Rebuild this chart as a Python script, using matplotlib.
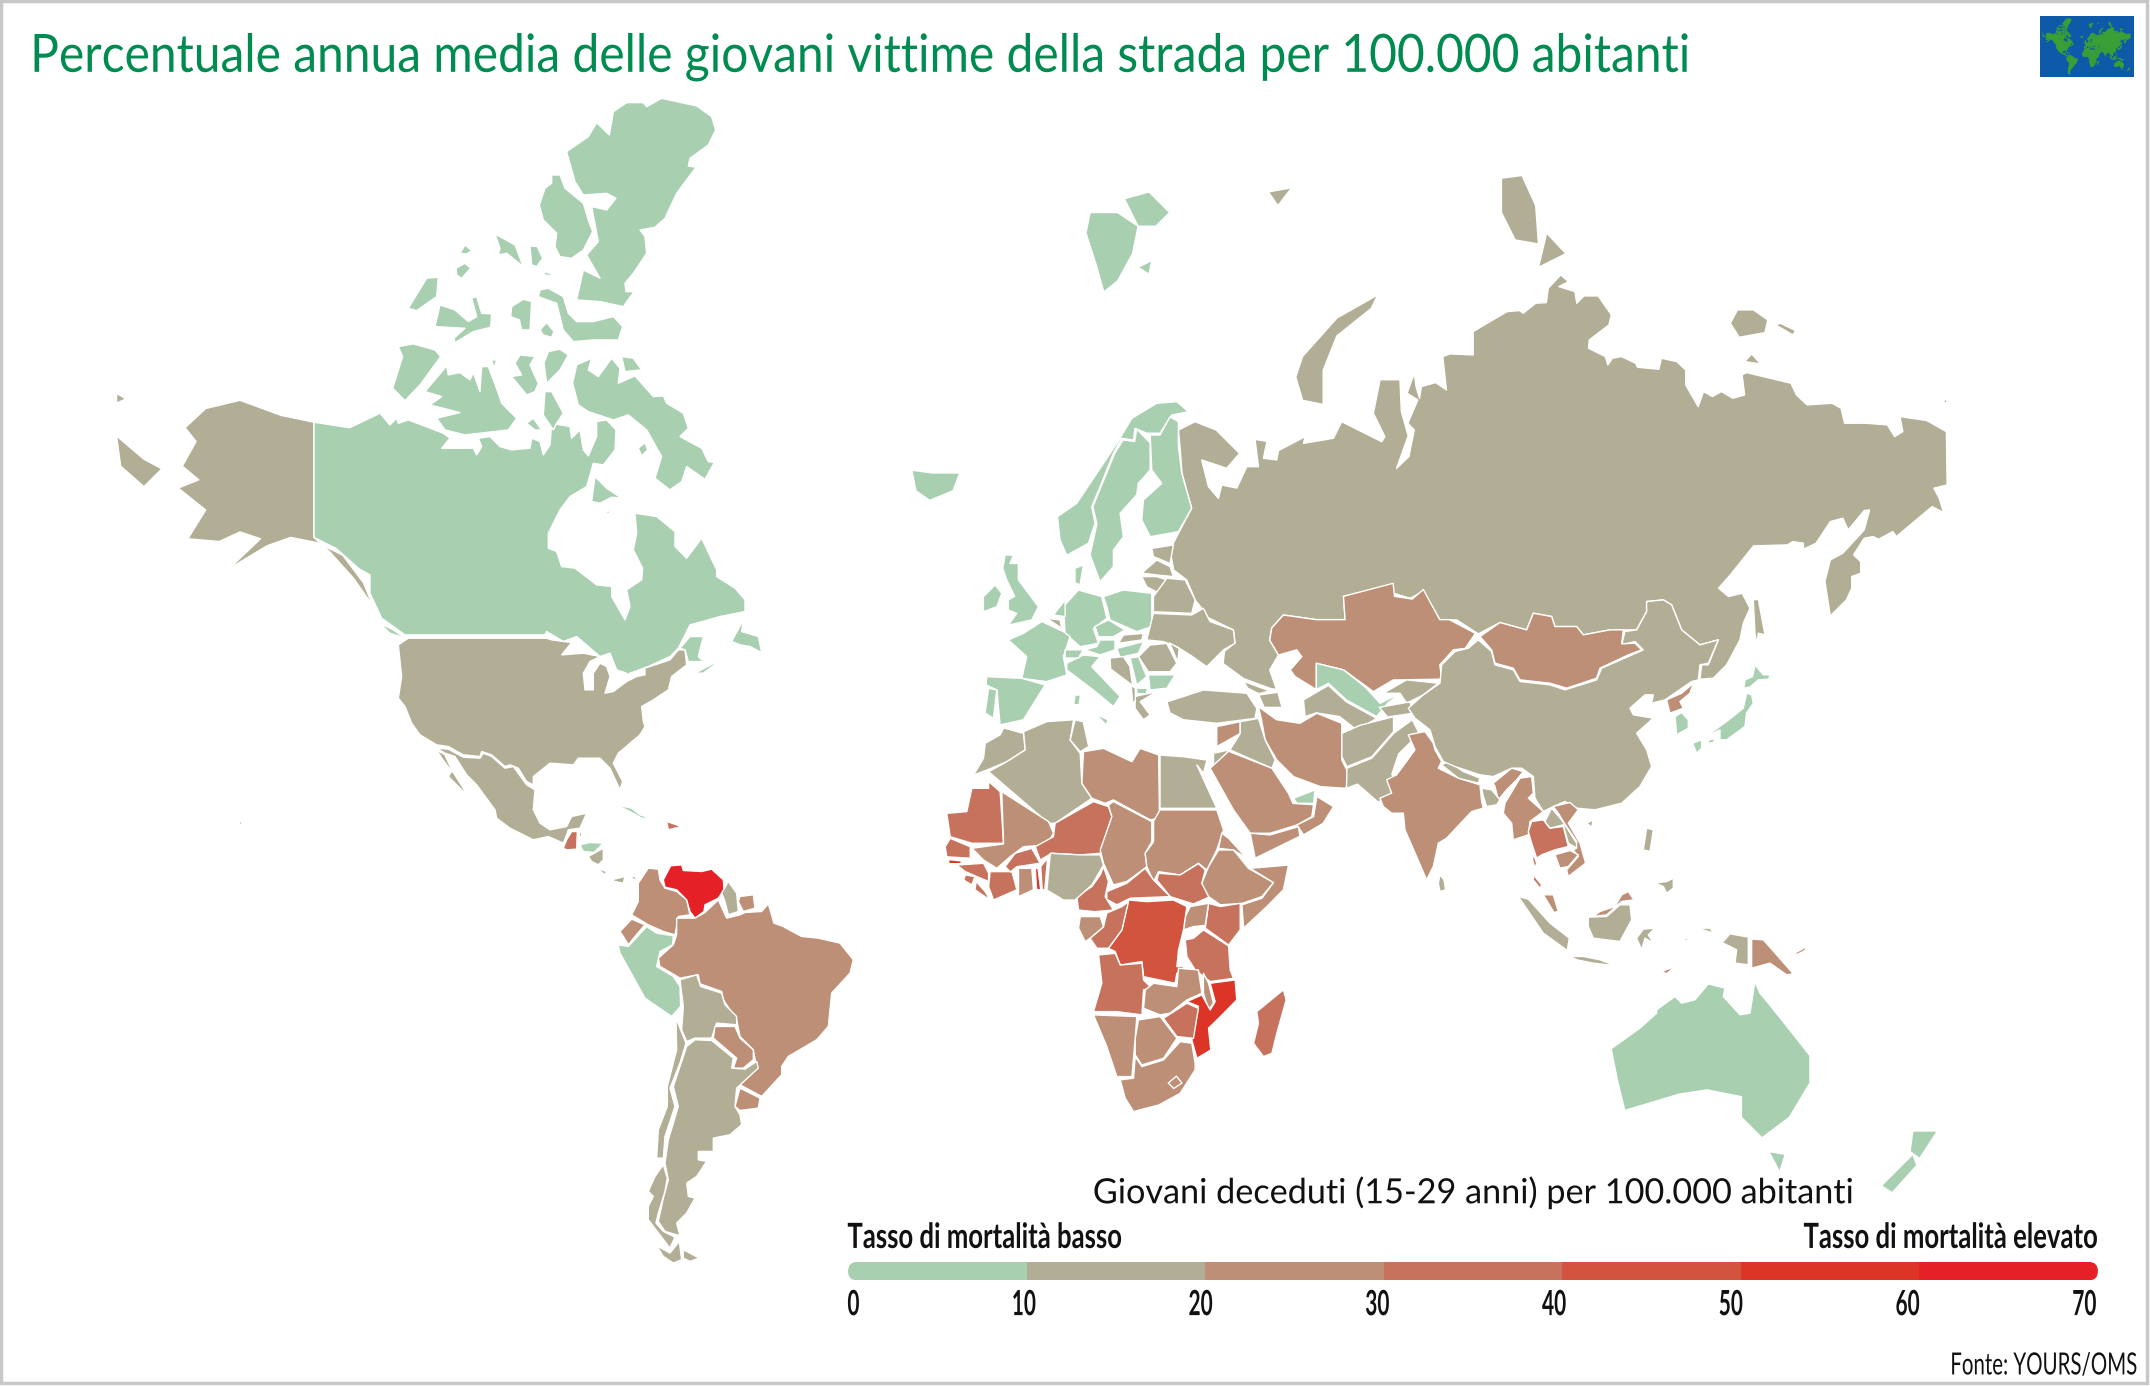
import matplotlib
matplotlib.use('Agg')
import matplotlib.pyplot as plt
from matplotlib.patches import FancyBboxPatch, Rectangle
from matplotlib.patheffects import AbstractPathEffect
from matplotlib.transforms import Affine2D

# band edges and colours of the legend
bands = [0, 10, 20, 30, 40, 50, 60, 70]
band_colors = ['#a9cfb1', '#b2ae96', '#bc8f76', '#c6725c', '#d2533e', '#dc3528', '#e52027']

# mortality, one estimate per area
rates = {
 'Alaska': 15, 'Chukotka': 15, 'Wrangel': 15, 'Hawaii': 15, 'Canada': 5, 'Newfoundland': 5, 'Baffin': 5, 'Ellesmere': 5, 'Devon': 5,
 'Banks': 5, 'Victoria': 5, 'Melville': 5, 'Bathurst': 5, 'Cornwallis': 5, 'Axel': 5, 'Prince': 5, 'Somerset': 5,
 'Arctic1': 5, 'Arctic2': 5, 'Arctic3': 5, 'Arctic4': 5, 'Arctic5': 5, 'Arctic6': 5, 'Arctic7': 5, 'Arctic8': 5,
 'Arctic9': 5, 'Coats': 5, 'Bylot': 5, 'Southampton': 5, 'Mansel': 5, 'NovaScotia': 5, 'Brunswick': 5, 'Vancouver': 5,
 'USA': 15, 'Mexico': 15, 'Baja': 15, 'Guatemala': 35, 'Belize': 35, 'Honduras': 5, 'Nicaragua': 15, 'CostaRica': 15,
 'Panama': 15, 'Panama2': 15, 'Cuba': 5, 'Hispaniola': 35, 'Jamaica': 15,
 'Colombia': 25, 'Venezuela': 65, 'Guyana': 15, 'Suriname': 25, 'Ecuador': 25, 'Peru': 5,
 'Bolivia': 15, 'Brazil': 25, 'Paraguay': 25, 'Uruguay': 25, 'Argentina': 15, 'Chile': 15, 'ChileSouth': 15,
 'Fuego': 15, 'Fuego2': 15,
 'Greenland': 5, 'Greenland2': 5, 'Greenland3': 5, 'Svalbard': 15, 'Novaya': 15, 'Zemlya': 15, 'Franz': 15,
 'Severnaya': 15, 'Siberia1': 15, 'Siberia2': 15, 'Siberia3': 15, 'Russia': 15, 'Kazakhstan': 25, 'Uzbekistan': 5,
 'Turkmenistan': 15, 'Kyrgyzstan': 15, 'Tajikistan': 15, 'Iran': 25, 'Turkey': 15, 'Syria': 25, 'Iraq': 15,
 'Jordan': 15, 'Saudi': 25, 'UAE': 5, 'Oman': 25, 'Yemen': 25, 'Georgia': 15, 'Azerbaijan': 15,
 'Morocco': 15, 'Algeria': 15, 'Tunisia': 15, 'Libya': 25, 'Egypt': 15, 'Mauritania': 35, 'Mali': 25,
 'Niger': 35, 'Chad': 25, 'Sudan': 25, 'SouthSudan': 35, 'Eritrea': 25, 'Ethiopia': 25, 'Somalia': 25,
 'Kenya': 35, 'Uganda': 25, 'Tanzania': 35, 'DRC': 45, 'Congo': 35, 'Gabon': 25, 'Cameroon': 35, 'CAR': 35,
 'Nigeria': 15, 'Angola': 35, 'Zambia': 25, 'Malawi': 25, 'Mozambique': 55, 'Zimbabwe': 35, 'Botswana': 25,
 'Namibia': 25, 'SouthAfrica': 25, 'Lesotho': 25, 'Madagascar': 35, 'Senegal': 35, 'Gambia': 55, 'Guinea': 35, 'Sierra': 35,
 'Liberia': 35, 'Ivory': 35, 'Burkina': 35, 'Ghana': 25, 'Togo': 55, 'Benin': 35,
 'Norway': 5, 'Sweden': 5, 'Finland': 5, 'Estonia': 15, 'Latvia': 15, 'Lithuania': 15, 'Belarus': 15,
 'Poland': 5, 'Ukraine': 15, 'Romania': 15, 'Moldova': 15, 'Bulgaria': 5, 'Greece': 15, 'Germany': 5,
 'Denmark': 5, 'Netherlands': 5, 'Belgium': 15, 'France': 5, 'UK': 5, 'Ireland': 5, 'Iceland': 5, 'Spain': 5,
 'Portugal': 5, 'Italy': 5, 'Sicily': 5, 'Sardinia': 5, 'Switzerland': 5, 'Austria': 5, 'Czech': 5,
 'Slovakia': 15, 'Hungary': 5, 'Croatia': 15, 'Serbia': 5, 'Macedonia': 5, 'Albania': 15,
 'Afghanistan': 15, 'Pakistan': 15, 'India': 25, 'SriLanka': 15, 'Nepal': 15, 'Bangladesh': 15, 'NEIndia': 25,
 'China': 15, 'Hainan': 15, 'Mongolia': 25, 'NKorea': 25, 'SKorea': 5, 'Honshu': 5, 'Hokkaido': 5, 'Kyushu': 5,
 'Shikoku': 5, 'Sakhalin': 15, 'Myanmar': 25, 'Thailand': 35, 'ThaiSouth': 35, 'ThaiSouth2': 35, 'Laos': 15,
 'Vietnam': 25, 'Cambodia': 25, 'Malaya': 25, 'Sumatra': 15, 'Java': 15, 'Kalimantan': 15, 'Sarawak': 25,
 'Sulawesi': 15, 'Luzon': 15, 'Mindanao': 15, 'Seram': 15, 'Buru': 15, 'Timor': 25, 'Papua': 15, 'PNG': 25,
 'Solomon': 25, 'Australia': 5, 'Tasmania': 5, 'NZNorth': 5, 'NZSouth': 5,
}


def crop(x0, y0, pts, sx=3):
    # points traced on a zoomed crop, back to the 1568 wide view
    return [((x0 + x / sx) / 1.3712, (y0 + y / 3) / 1.3712) for x, y in pts]


def A(pts): return crop(380, 90, pts)
def B(pts): return crop(370, 460, pts)
def C(pts): return crop(1380, 580, pts)
def D(pts): return crop(580, 830, pts)
def E(pts): return crop(1400, 260, pts, 2.8)


# hand traced outlines in picture pixels (1568 wide view)
outlines = {
 'Alaska': [(229,308),(205,303),(175,292),(150,298),(135,312),(143,322),(133,340),(145,350),(130,356),(150,372),(137,393),(160,395),(175,388),(190,393),(170,412),(145,428),(175,410),(195,398),(212,392),(232,396),(250,405),(265,425),(272,442),(258,422),(240,402),(229,392)],
 'Chukotka': [(85,318),(105,335),(118,342),(105,355),(88,340)],
 'Wrangel': [(85,287),(92,291),(85,294)],
 'Hawaii': [(174,599),(177,600),(175,602)],
 'Canada': [(229,308),(255,312)] + A([(0,970),(30,1005),(50,985),(55,1000),(85,990),(190,1030),(210,1045),(185,1075),(280,1075),(290,1095),(305,1070),(295,1045),(330,1040),(360,1070),(395,1080),(450,1075),(455,1045),(480,1055),(490,1095),(510,1065),(515,1000),(570,1010),(575,1045),(600,1020),(610,1080),(625,1098),(650,1040),(650,995),(680,990),(708,1020),(705,1080),(670,1125),(640,1120),(620,1190)]) + B([(600,110),(570,150),(535,220),(535,265),(560,275),(575,320),(615,325),(680,375),(725,380),(725,410),(765,480),(780,440),(770,390),(815,360),(818,325),(790,270),(800,220),(795,160),(860,170),(915,215),(915,260),(950,295),(995,235),(1040,330),(1040,350),(1095,385),(1125,420),(1125,455),(1050,470),(960,495),(925,565),(900,590),(835,620),(780,640),(760,650),(720,680),(770,640),(740,630),(720,580),(690,590),(620,530),(580,545),(530,515),(525,525),(105,525),(35,475),(0,400),(0,345)]) + [(262,415),(245,400),(229,392)],
 'Newfoundland': B([(1085,545),(1120,480),(1115,515),(1165,530),(1175,578),(1140,560),(1110,555)]),
 'NovaScotia': B([(975,640),(1060,595),(1000,640)]),
 'Brunswick': B([(930,565),(960,530),(1000,530),(985,590),(1000,605),(955,605),(945,570)]),
 'Vancouver': B([(28,490),(70,510),(105,535),(60,520)]),
 'Southampton': B([(665,125),(675,50),(710,85),(755,115),(725,112),(690,130)]),
 'Mansel': B([(705,160),(730,145),(715,162)]),
 'Ellesmere': A([(560,185),(625,140),(650,98),(688,135),(700,65),(740,38),(790,38),(800,50),(845,25),(950,48),(995,80),(1007,120),(985,165),(930,205),(925,228),(948,232),(890,310),(855,385),(825,412),(780,420),(795,440),(800,490),(760,550),(735,580),(738,605),(762,605),(730,650),(660,635),(590,630),(610,540),(660,565),(620,495),(655,455),(635,350),(680,360),(708,325),(680,310),(610,315),(585,275)]),
 'Devon': A([(515,255),(540,255),(555,295),(610,340),(625,390),(638,425),(610,480),(575,505),(540,500),(525,470),(530,430),(490,390),(478,345),(495,295),(515,280)]),
 'Arctic1': A([(345,432),(405,465),(430,530),(380,490),(355,495),(360,475)]),
 'Arctic2': A([(450,468),(472,470),(488,505),(470,530),(455,525)]),
 'Arctic3': A([(490,545),(510,550),(515,558),(495,555)]),
 'Arctic4': A([(240,490),(255,465),(275,482),(260,492)]),
 'Arctic5': A([(228,535),(255,520),(272,535),(245,565),(230,555)]),
 'Melville': A([(85,655),(140,565),(175,562),(170,620),(110,662)]),
 'Bathurst': A([(165,710),(180,645),(225,660),(265,695),(290,680),(275,625),(290,620),(305,670),(335,672),(332,712),(280,725),(225,758),(222,745),(255,715)]),
 'Cornwallis': A([(395,650),(430,628),(455,635),(450,720),(425,720),(418,690),(392,680)]),
 'Axel': A([(480,600),(505,595),(550,620),(565,670),(590,695),(640,695),(700,680),(728,710),(715,750),(640,750),(580,755),(550,720),(530,640),(475,620)]),
 'Arctic6': A([(480,720),(500,698),(522,725),(515,742),(490,735)]),
 'Prince': A([(505,785),(540,778),(565,795),(540,840),(500,880),(492,820)]),
 'Banks': A([(55,770),(100,762),(165,780),(182,800),(120,885),(75,932),(38,895),(68,800)]),
 'Victoria': A([(135,905),(200,828),(205,855),(240,848),(270,870),(280,848),(300,905),(305,830),(325,830),(355,910),(365,940),(410,985),(385,1020),(255,1035),(195,1020),(170,985),(240,968),(150,945),(185,920)]),
 'Arctic7': A([(335,810),(350,810),(342,835)]),
 'Somerset': A([(420,795),(465,800),(450,825),(475,880),(465,905),(440,915),(395,860),(425,855),(405,820)]),
 'Arctic8': A([(495,905),(515,905),(550,970),(530,1000),(520,1020),(490,975)]),
 'Arctic9': A([(440,1000),(460,985),(485,1020),(465,1020)]),
 'Baffin': A([(578,880),(590,825),(635,805),(625,840),(655,860),(695,805),(720,835),(715,880),(765,858),(820,920),(850,918),(860,940),(910,970),(925,1015),(900,1040),(965,1075),(985,1115),(1003,1118),(975,1168),(920,1130),(905,1175),(870,1200),(825,1165),(845,1100),(800,1020),(745,975),(700,990),(625,965),(595,945)]),
 'Coats': A([(775,1075),(795,1058),(803,1080),(785,1098)]),
 'Bylot': A([(725,800),(760,805),(785,840),(735,845)]),
 'USA': B([(85,555),(115,535),(530,535),(545,540),(605,548),(575,585),(640,580),(690,590),(660,605),(640,640),(645,690),(670,690),(670,640),(690,610),(710,620),(720,650),(705,700),(730,695),(770,665),(800,650),(825,645),(825,625),(900,600),(925,570),(945,570),(950,615),(905,650),(895,690),(850,720),(815,740),(820,785),(825,800),(810,825),(745,880),(730,910),(758,965),(750,990),(720,925),(690,895),(625,895),(610,915),(540,910),(490,950),(490,975),(470,965),(445,925),(420,915),(405,920),(365,885),(335,875),(330,890),(280,885),(235,860),(200,855),(150,825),(125,790),(105,740),(85,715),(95,650)]),
 'Mexico': B([(200,865),(235,868),(280,892),(330,895),(340,880),(365,890),(405,925),(430,920),(470,975),(495,990),(490,1050),(510,1090),(540,1110),(590,1100),(605,1070),(650,1060),(630,1105),(595,1110),(590,1125),(580,1150),(535,1130),(490,1140),(420,1105),(380,1075),(375,1050),(320,975),(290,945),(255,890),(225,880)]),
 'Baja': B([(200,870),(225,885),(245,930),(280,985),(290,1005),(275,990),(235,950),(245,935),(215,895)]),
 'Guatemala': B([(580,1165),(590,1140),(605,1115),(622,1115),(620,1168),(590,1170)]),
 'Belize': B([(627,1118),(632,1118),(632,1130),(627,1130)]),
 'Honduras': B([(630,1155),(660,1148),(700,1150),(672,1178),(640,1175)]),
 'Nicaragua': D([(25,80),(70,55),(70,90),(55,105),(35,95)]),
 'CostaRica': D([(50,115),(80,125),(75,135)]),
 'Panama': D([(95,150),(135,140),(130,160),(105,155)]),
 'Panama2': D([(150,140),(165,140),(170,155)]),
 'Cuba': B([(738,1035),(785,1045),(810,1065),(845,1075),(815,1075),(780,1055)]),
 'Hispaniola': B([(890,1085),(935,1100),(895,1110)]),
 'Jamaica': B([(795,1103),(805,1108),(795,1110)]),
 'Colombia': D([(205,115),(235,118),(240,150),(255,175),(290,185),(320,210),(330,255),(295,260),(285,315),(250,305),(205,285),(155,255),(175,215),(175,160)]),
 'Venezuela': D([(250,150),(272,108),(305,105),(310,122),(365,125),(395,118),(430,150),(432,180),(415,205),(375,225),(372,245),(345,265),(330,245),(320,210),(290,180),(255,172)]),
 'Guyana': D([(445,155),(470,190),(475,245),(445,255),(435,215),(425,190)]),
 'Suriname': D([(480,200),(520,195),(525,235),(490,245),(475,215)]),
 'Brazil': D([(290,265),(345,265),(375,248),(415,210),(440,265),(480,255),(495,248),(545,245),(565,222),(582,280),(610,290),(618,295),(665,320),(715,325),(780,340),(820,390),(810,430),(755,490),(745,590),(710,630),(625,680),(605,710),(605,735),(545,800),(480,765),(530,715),(520,660),(480,620),(470,570),(430,510),(425,485),(360,462),(355,435),(300,445),(275,430),(240,410),(235,385),(280,345),(290,315)]),
 'Ecuador': D([(120,305),(155,268),(195,285),(165,320),(145,345),(130,320)]),
 'Peru': D([(115,345),(145,350),(200,290),(230,310),(280,318),(278,345),(240,365),(230,410),(280,440),(300,470),(302,530),(275,560),(195,505),(120,370)]),
 'Bolivia': D([(300,450),(350,435),(362,470),(425,490),(435,525),(470,560),(470,585),(410,580),(395,625),(345,625),(320,635),(305,600),(310,530)]),
 'Paraguay': D([(405,590),(465,590),(480,625),(520,660),(520,690),(490,715),(460,715),(470,685),(400,625)]),
 'Uruguay': D([(480,775),(540,805),(535,835),(480,842),(465,830)]),
 'Argentina': D([(320,650),(345,630),(395,632),(460,685),(455,715),(495,718),(530,695),(535,715),(470,775),(465,830),(480,855),(485,885),(450,915),(400,925),(400,965),(355,965),(355,990),(380,995),(350,1040),(320,1060),(325,1100),(345,1105),(320,1150),(290,1180),(300,1218),(255,1205),(235,1175),(250,1105),(265,1050),(255,1000),(265,930),(295,830),(280,770),(300,710)]),
 'Chile': D([(288,565),(318,640),(300,700),(270,775),(285,830),(255,920),(250,985),(230,985),(235,900),(262,830),(262,770),(290,660)]),
 'ChileSouth': D([(225,1040),(250,1005),(262,1045),(255,1085),(235,1150),(228,1180),(250,1205),(285,1222),(270,1255),(205,1170),(205,1130),(220,1100),(205,1085)]),
 'Fuego': D([(230,1248),(270,1270),(298,1235),(305,1290),(280,1300),(250,1280)]),
 'Fuego2': D([(310,1260),(358,1285),(330,1295),(310,1285)]),
 'Greenland': [(795,155),(815,155),(830,165),(826,185),(815,205),(805,213),(800,195),(792,170)],
 'Greenland2': [(820,145),(838,140),(853,155),(843,165),(830,165)],
 'Greenland3': [(830,195),(840,190),(838,200)],
 'Svalbard': [(925,140),(942,137),(932,150)],
 'Novaya': [(1095,130),(1110,128),(1120,150),(1122,178),(1105,175),(1095,155)],
 'Zemlya': [(1128,170),(1142,185),(1122,195)],
 'Franz': [(950,260),(975,232),(1005,215),(1000,225),(975,245),(965,270),(965,295),(950,292),(945,275)],
 'Severnaya': E([(925,190),(945,150),(990,150),(1030,180),(1022,218),(950,232)]),
 'Siberia1': E([(1052,195),(1065,190),(1108,212),(1100,225)]),
 'Siberia2': E([(965,305),(985,282),(1010,312)]),
 'Siberia3': E([(1520,425),(1532,415),(1530,430)]),
 'Russia': [(859.4,313.7),(871.6,307.6),(887,313.7),(904,330.7),(894.7,341.6),(876.4,335.5),(881.3,355),(888.6,363.5),(891,353.8),(902,356),(909.3,340.4),(917.8,340.4),(915.3,320.5),(924,322),(921.4,334.3),(931.1,335.5),(932.4,328.7),(951.8,318.5),(950.6,323.4),(972.5,319.7),(978.5,307.6),(1007.7,322.2),(1010,318.5),(1001.6,301.5),(1006.5,277),(1021,277),(1022,300),(1027,318),(1018.5,341.6)] + E([(25,590),(40,510),(22,490),(50,420),(20,400),(40,340),(45,380),(55,415),(60,380),(100,368),(130,390),(120,290),(140,282),(205,285),(205,215),(260,180),(300,155),(335,152),(345,160),(380,130),(410,128),(415,85),(450,45),(472,65),(445,80),(490,95),(495,130),(515,108),(555,108),(592,165),(585,195),(530,240),(528,265),(575,290),(582,315),(595,295),(620,290),(660,310),(665,322),(725,328),(732,295),(775,305),(800,330),(800,375),(835,440),(850,395),(875,410),(900,395),(932,415),(965,405),(958,345),(970,338),(1095,370),(1110,405),(1140,435),(1210,430),(1235,445),(1245,490),(1305,490),(1365,495),(1385,530),(1408,515),(1400,470),(1475,482),(1530,515),(1532,675),(1495,685),(1510,715),(1522,758),(1490,740),(1390,830),(1380,815),(1340,838),(1325,830),(1300,835),(1270,885),(1290,905),(1290,940),(1265,950),(1265,985),(1250,1020),(1205,1068),(1190,965),(1205,900),(1240,880),(1300,810),(1315,750),(1300,752),(1255,810),(1240,775),(1205,785),(1165,850),(1130,868),(1130,850),(1100,845),(1085,855),(990,858),(925,945),(892,985),(920,1010),(958,1000),(980,1045)]) + C([(1090,130),(1080,180),(1040,255),(1000,295),(960,298),(965,255),(985,255),(1015,180),(960,195),(905,150),(875,75),(850,60),(800,65),(800,95),(770,150),(730,150),(690,150),(610,165),(590,140),(525,140),(515,110),(460,100),(440,150),(360,128),(295,162),(230,120),(180,120),(130,35),(90,55),(40,40),(40,15)]) + [(979.8,435),(981,452),(960,452),(936,448.6),(927.5,458),(926,467),(932.4,477.8),(926,488.7),(931,503),(926,502),(907,495),(892,484),(893,475),(900.7,469),(899.5,459.5),(880,450),(876.4,443.7),(871.6,437.6),(865.5,423),(856,415.8),(853.3,401),(859.4,389),(869,370.8),(862,345),(860.6,325.8)],
 'Kazakhstan': [(1016,425.5),(1017,435),(1030,437),(1038,430),(1050,452),(1057,452),(1076,462),(1068.6,473),(1060,474),(1050,485),(1051.6,495.4),(1016,496),(1001.6,504.5),(980,488.7),(960,483.8),(960,503),(944.5,493.5),(941,488.7),(949.4,479),(945.7,474),(932.4,477.8),(926,467),(927.5,458),(936,448.6),(960,452),(981,452),(979.8,435)],
 'Uzbekistan': [(960,483.8),(980,488.7),(995.5,501),(1006.5,513),(1021,505.7),(1012,513),(1004,522.7),(982,510.6),(968.8,498.4),(960,503)],
 'Turkmenistan': [(950.6,510.6),(960,505),(968.8,500),(982,512),(1004,524),(989.5,532.5),(977,522.7),(960,520),(951.8,522.7)],
 'Kyrgyzstan': C([(10,340),(80,300),(175,310),(130,345),(80,370),(60,340)]),
 'Tajikistan': [(1006,516),(1028,512),(1032,520),(1012,523)],
 'Iran': [(917.8,515.5),(931,525),(948,527.6),(960.4,520.3),(978.6,527.6),(978.6,554.4),(986,569),(981,575),(963,573.8),(943.4,566.5),(931.2,554.4),(922.7,539.8),(920,525)],
 'Turkey': [(851,512),(877.7,503.3),(909.3,505.7),(916.6,516.7),(915.3,524),(887.4,527.6),(863,525),(853.3,520)],
 'Syria': [(887.4,530),(904.5,526.4),(904.5,535),(887.4,544.6)],
 'Iraq': [(904.5,526.4),(917.8,524),(922.7,539.8),(930,554.4),(927.6,560.4),(897,547),(904.5,535)],
 'Jordan': [(885,549.5),(896,547),(890,557),(885,558)],
 'Saudi': [(882.6,560.4),(896,548),(927.6,560.4),(939.7,578.7),(943,586),(958,587),(956.7,595.7),(945.8,601.8),(926.3,607.8),(911.8,607.8),(899.6,590.8)],
 'UAE': [(943.4,582.3),(959,576.2),(958,586),(945.8,586)],
 'Oman': [(960.4,581),(972.5,588.4),(965,600.5),(950.7,609),(945.8,601.8),(958,595.7)],
 'Yemen': [(911.8,607.8),(926.3,609),(947,603),(948,610),(915.4,626)],
 'Georgia': [(907,497),(926,504),(918,506),(910,502)],
 'Azerbaijan': [(918,507),(932,505),(935,516),(922,516)],
 'Morocco': [(732,531),(746.5,535),(747.7,547),(734.3,555.6),(719.7,561.7),(710,565.3),(717.3,553.1),(718.5,542.2),(729.4,536)],
 'Algeria': [(746.5,533.7),(763.5,526.4),(783,525),(780.5,539.8),(787.8,549.5),(789,571.4),(796.3,582.3),(769.5,600.5),(764.7,600.5),(721,562.9),(734.3,555.6),(747.7,547)],
 'Tunisia': [(784,525.2),(790,526.4),(794,544.6),(787.8,548.3),(780.5,539.8)],
 'Libya': [(790.2,548.3),(804.8,545.9),(825.5,555.6),(831.5,545.9),(845,550.7),(845.6,596.9),(838.8,598),(812,583.5),(806,586),(796.3,582.3),(789,571.4)],
 'Egypt': [(846,550.7),(863.1,552),(880.2,554.4),(877.7,564),(872.9,558),(887.4,589.6),(846,589.6)],
 'Mauritania': [(690.5,593.3),(705.1,592),(708.8,575),(721,575),(721,570),(729.4,577.5),(731.9,615.1),(708.8,615.1),(693,610.3)],
 'Mali': [(730.6,577.5),(764.7,599.3),(768.3,607.8),(763.5,616.3),(746.5,617.6),(736.7,624.9),(727,633.4),(717.3,627.3),(708.8,618.8),(731.9,615.6)],
 'Niger': [(769.5,600.5),(797.5,584.7),(808.4,588.4),(810.9,595.7),(802.4,622.4),(787.8,623.6),(767,622.4),(758.6,627.3),(755,617.6),(768.3,610.3)],
 'Chad': [(808.4,587.2),(812,584.7),(840,599.3),(840,614),(835.2,622.4),(836.4,632.2),(821.8,643),(812,645.5),(804.8,629.7),(802.4,620),(810.9,595.7)],
 'Sudan': [(846,590.8),(887.4,590.8),(892.3,605.4),(887.4,620),(880.2,634.6),(874,629.7),(860.7,638.2),(845,635.8),(841.3,643),(836.4,632.2),(835.2,622.4),(841.3,614),(841.3,599)],
 'SouthSudan': [(845,637),(860.7,638.2),(874,630),(879,634.6),(876.5,644.3),(882.6,654),(870.4,659.4),(853.4,654),(843.7,641.9)],
 'Eritrea': [(891,607.8),(896,611.5),(909.3,626),(899.6,620),(888.7,618.8)],
 'Ethiopia': [(888.7,620),(899.6,620),(910.5,633.4),(928.8,643.8),(920.3,654),(905.7,659),(890,660),(881.4,654),(876.5,644.3),(881.4,632.2)],
 'Somalia': [(911.8,633.4),(939.7,631),(936,649),(923.9,661.3),(907,677),(905.7,660),(920.3,655.2),(928.8,643.8)],
 'Kenya': [(881.4,658.9),(890,661.3),(904.5,658.9),(904.5,678.3),(896,689.3),(879,677)],
 'Uganda': [(868,661.3),(881.4,658.9),(879,675),(870.4,675.9),(863.1,678.3),(864.4,668.6)],
 'Tanzania': [(864.4,685.6),(870.4,684.4),(877.7,678.3),(896,690),(897.2,707.5),(899.6,713.6),(882.6,716),(871.6,707.5),(865.6,697.8)],
 'DRC': [(823,656.5),(836.4,657.7),(855.8,656.5),(865.6,661.3),(863.1,678.3),(859.5,693),(858.3,705.1),(864.4,705),(858.3,710),(857,717.2),(834,712.4),(832.8,701.4),(817,703.9),(813.3,694.1),(808.4,691.7),(818.2,678.3)],
 'Congo': [(807.2,666),(818.2,661.3),(823,657.7),(818.2,678.3),(808.4,691.7),(800,691.7),(795,684.4),(804.8,676)],
 'Gabon': [(786.6,677),(787.8,668.6),(802.4,668.6),(804.8,676),(795,684.4),(791.4,686.8)],
 'Cameroon': [(804.8,632.2),(808.4,643),(806,654),(812,663.8),(798.3,665),(786.6,663.8),(785.3,654),(796.3,646.7),(802.4,638.2)],
 'CAR': [(807.2,650.4),(821.8,644.3),(835.2,633.4),(841.3,641.9),(853.4,654),(824.2,655.2),(814.5,660),(807.2,656)],
 'Nigeria': [(766,622.4),(787.8,623.6),(802.4,623.6),(804.8,631),(796.3,645.5),(784.1,656.5),(775.6,656.5),(763.5,649.2)],
 'Angola': [(801.2,696.6),(813.3,695.4),(817,703.9),(832.8,702.6),(834,714.8),(840,720.9),(834,722),(832.8,740.3),(814.5,737.9),(797.5,737.9),(803.6,717.2)],
 'Zambia': [(835.2,722),(841.3,717.2),(858.3,719.7),(859.5,706.3),(874,707.5),(876.5,724.5),(865.6,729.4),(853.4,739),(846.1,740.3),(834,735.5)],
 'Malawi': [(877.7,710),(881.4,717.2),(885,731.8),(881.4,736.7),(877.7,724.5)],
 'Mozambique': [(882.6,717.2),(900.8,714.8),(902,729.4),(890,741.6),(881.4,750),(883,765.9),(872.9,772),(869.2,758.6),(874,734),(865.6,730.6),(876.5,725.7),(882.6,736.7),(886.2,730.6)],
 'Zimbabwe': [(848.5,742.8),(865.6,731.8),(874,735.5),(870.4,757.4),(858.3,756.1)],
 'Botswana': [(830.3,744),(846.1,741.5),(858.3,757.4),(848.5,772),(832.8,776.8),(827.9,769.5),(827.9,757.4)],
 'Namibia': [(797.5,740.3),(829.1,741.5),(827.9,757.4),(825.5,785.3),(814.5,785.3),(807.2,763.4)],
 'SouthAfrica': [(817,787.7),(826.7,786.5),(827.9,770.7),(832.8,778),(848.5,773.2),(860.7,759.8),(869.2,761),(871.6,775.6),(871.6,780.4),(860.7,797.5),(845.1,806),(826.7,810.8),(820.6,801)],
 'Lesotho': [(852,790),(858,785),(862,790),(856,794)],
 'Madagascar': [(936,722),(938,729.4),(931.2,753.7),(927.6,768.3),(921.5,770.7),(914.2,761),(917.8,746.4),(916.6,737.9)],
 'Senegal': [(689.3,617.6),(693,611.5),(707.6,617.6),(707.6,626),(690.5,625)],
 'Gambia': [(691.8,627),(701,628),(701,630),(692,630)],
 'Guinea': [(697.8,631),(717.3,629.7),(721,637),(721,643),(712.4,639.4),(704,635.8)],
 'Sierra': [(704,638.2),(711,639.4),(708.8,645.5),(702.8,642)],
 'Liberia': [(712,643),(718.5,650.4),(722,656.5),(711,649)],
 'Ivory': [(722.1,635.8),(738,635.8),(741.6,649),(724.6,656.5),(721,646.7)],
 'Burkina': [(733,632.2),(740.4,622.4),(752.5,618.8),(758.6,629.7),(741.6,632.2),(737,636)],
 'Ghana': [(742.8,633.4),(752.5,633.4),(753.7,649),(742.8,654)],
 'Togo': [(755,633.4),(757,633.4),(759,649),(756,649)],
 'Benin': [(759,632),(764,626),(762,649),(760,649)],
 'Norway': [(771.2,376.9),(785.3,367.1),(814.5,323.4),(825.4,305.2),(843.6,294.2),(858.2,293),(866.7,300.3),(854.6,302.7),(846,316),(836.3,316),(827.8,312.5),(826.6,321),(818,319.7),(812,330.7),(802.3,355),(796.2,369.6),(798.6,381.7),(793.8,396.3),(778,405),(773.1,393.9)],
 'Sweden': [(797,369.6),(803,355),(813,330.7),(819,321),(827.5,322),(829,313),(838.8,323),(838.8,342.8),(830.2,352.6),(829,361),(816.9,374.4),(819.3,391.5),(812,401.2),(812,413.3),(802.3,424.3),(795,404.8),(800,382)],
 'Finland': [(838.8,317.3),(846,317.3),(853.3,304),(859.4,307.6),(859.4,325.8),(861.9,345.3),(869.1,370.8),(859.4,387.8),(838.8,391.5),(832.7,379.3),(833.9,364.7),(847.3,352.6),(840,342.8)],
 'Estonia': [(840,400),(855.8,397.5),(853.3,411),(841.2,406)],
 'Latvia': [(832.7,418),(843.6,408.5),(853.3,413.3),(855.8,420.6),(843.6,419.4)],
 'Lithuania': [(832.7,420.6),(843.6,420.6),(851,423),(846,433),(836.3,428)],
 'Belarus': [(841.2,435.2),(851,421.8),(864.3,423),(871.6,437.6),(869.1,447.4),(841.2,446.2)],
 'Poland': [(804.7,435.2),(819.3,430.4),(840,432.8),(840,457),(829,460.7),(809.6,452.2),(807.2,442.5)],
 'Ukraine': [(841.2,447.4),(869.1,448.6),(877.7,443.7),(882.5,453.4),(899.5,459.5),(900.7,469.2),(892.2,474.1),(880.1,486.3),(868,477.8),(858.2,471.7),(848.5,468),(836.3,466.8)],
 'Romania': [(830.3,479),(838.8,470.5),(850.9,469.3),(858.2,483.8),(853.3,490),(837.5,490)],
 'Moldova': [(853,469),(860,473),(859,483)],
 'Bulgaria': [(837.5,492.3),(857,492.3),(851,502),(838.8,503.3)],
 'Greece': [(827.8,508),(843.6,504.5),(831.5,511.8),(838.8,521.5),(833.9,525),(827.8,516.7)],
 'Germany': [(786.5,430.4),(803.5,435.2),(807.2,451),(797.4,458.3),(801.1,469.2),(787.7,471.7),(776.8,462),(775.5,442.5)],
 'Denmark': [(784,414.6),(790.1,412),(787.7,426.7),(784,425)],
 'Netherlands': [(768.3,448.6),(776.8,437.6),(776.8,449.8)],
 'Belgium': [(763.4,451),(773.1,452.2),(774.3,458.3)],
 'France': [(735.4,466.8),(746.4,462),(759.8,453.4),(775.5,460.7),(780.4,464.4),(775.5,479),(778,492.3),(763.4,497.2),(745.2,494.8),(748.8,479)],
 'UK': [(733,404.8),(739,405),(736.7,411),(742.7,411),(742.7,423),(757.3,442.5),(752.5,452.2),(735.4,456),(741.5,447.4),(735.4,445),(735.4,437.6),(740,435),(734.2,423),(731.3,414.6)],
 'Ireland': [(717.2,435.2),(725.7,426.7),(730.6,432.8),(727,442.5),(717.2,446.2)],
 'Iceland': [(665,343),(680,345),(700,345),(695,358),(678,365),(668,358)],
 'Spain': [(719.6,493.6),(745.2,494.8),(762.2,499.6),(746.4,525),(729.4,528.8),(727,503.3),(719.2,499.6)],
 'Portugal': [(721,502),(727,503.3),(724.5,524),(718.4,520)],
 'Italy': [(778,483.8),(790.1,477.8),(802.3,479),(796.2,486.3),(816.9,508),(812,515.4),(797.4,503.3),(778,488.7)],
 'Sicily': [(799,521),(808,525),(807,529)],
 'Sardinia': [(784,507),(788,507),(787,514),(783,514)],
 'Switzerland': [(776.8,474),(790,474),(786.5,480),(776.8,480)],
 'Austria': [(791.4,474),(799.9,471.7),(802.3,466.8),(813.2,466.8),(813.2,474),(802.3,477.8)],
 'Czech': [(798.6,457),(808.4,452.2),(820.5,459.5),(812,464.4),(801,464.4)],
 'Slovakia': [(815.7,469.2),(819.3,463.2),(833.9,462),(832.7,466.8)],
 'Hungary': [(814.5,473),(833.9,468),(830.2,476.5),(816.9,479.5)],
 'Croatia': [(809.6,480),(819.3,479),(824,486),(826,500),(810,488)],
 'Serbia': [(824.2,480),(830.3,479),(836.3,493.6),(829,499.6)],
 'Macedonia': [(829,502),(837,502),(836,506),(829,506)],
 'Albania': [(825,500),(828,502),(828,512),(826,512)],
 'Afghanistan': [(978.6,535),(992,529),(1016.3,522.8),(1016.3,533.7),(1000.5,552),(982.3,559.2),(978.6,552)],
 'Pakistan': [(982.3,560.4),(1000.5,553),(1016.3,535),(1030,525),(1035,535),(1020,550),(1015,565),(1025,575),(1005,585),(990,572),(982,575)],
 'India': C([(85,465),(135,455),(160,490),(165,510),(185,545),(175,565),(235,595),(300,615),(305,665),(310,685),(275,695),(200,775),(175,790),(160,860),(140,900),(75,750),(70,700),(35,700),(10,680),(0,655),(35,640),(20,600),(50,585),(105,510)]),
 'SriLanka': C([(180,885),(192,900),(197,930),(180,935),(175,910)]),
 'Nepal': C([(185,555),(205,545),(250,575),(300,595),(295,610),(235,595)]),
 'NEIndia': C([(340,610),(395,565),(430,575),(410,600),(380,630),(355,660),(345,620)]),
 'Bangladesh': C([(305,625),(335,630),(360,660),(350,675),(320,680),(310,650)]),
 'China': C([(85,385),(130,345),(180,310),(185,255),(225,215),(265,205),(295,180),(335,215),(345,255),(400,270),(420,305),(510,315),(555,330),(650,300),(665,265),(745,230),(790,210),(765,185),(725,195),(735,155),(770,150),(800,95),(800,65),(850,60),(875,75),(905,150),(960,195),(1015,180),(985,250),(960,255),(955,300),(935,305),(855,360),(815,370),(820,345),(795,345),(750,385),(760,405),(820,415),(770,460),(800,510),(815,560),(780,620),(725,670),(645,690),(590,685),(555,665),(520,680),(490,695),(465,655),(460,590),(425,565),(395,565),(340,590),(300,585),(225,560),(190,545),(165,500),(150,450),(105,415)]),
 'Hainan': C([(620,730),(640,720),(635,742)]),
 'Mongolia': C([(300,170),(360,128),(440,150),(460,100),(515,110),(525,140),(590,140),(610,165),(690,150),(730,150),(725,192),(765,190),(785,210),(745,225),(660,265),(650,295),(560,325),(510,310),(420,300),(400,265),(345,250),(335,210)]),
 'NKorea': C([(860,360),(905,340),(940,310),(930,340),(900,365),(910,385),(870,400)]),
 'SKorea': C([(885,410),(905,398),(925,420),(925,445),(890,465)]),
 'Hokkaido': C([(1125,255),(1150,285),(1172,285),(1165,298),(1135,300),(1110,322),(1092,325),(1095,300),(1118,290)]),
 'Honshu': C([(1100,340),(1115,345),(1120,370),(1100,400),(1095,440),(1040,480),(1020,480),(1020,450),(975,470),(940,490),(1005,450),(1040,425),(1090,385)]),
 'Kyushu': C([(938,490),(965,480),(965,505),(950,520)]),
 'Shikoku': C([(985,482),(1005,475),(1000,488),(985,490)]),
 'Sakhalin': C([(1120,60),(1135,58),(1155,165),(1135,160),(1130,195),(1125,160)]),
 'Myanmar': C([(370,700),(375,670),(420,595),(455,590),(460,640),(445,655),(490,695),(450,725),(445,765),(400,780),(395,730)]),
 'Thailand': C([(445,755),(455,725),(490,720),(510,745),(550,740),(565,800),(525,810),(485,825),(470,835),(455,790)]),
 'ThaiSouth': C([(460,820),(470,850),(465,865),(458,840)]),
 'ThaiSouth2': C([(460,885),(485,915),(480,925),(460,900)]),
 'Laos': C([(495,725),(515,685),(545,720),(590,790),(590,805),(565,790),(550,735),(510,745)]),
 'Vietnam': C([(520,680),(570,668),(595,690),(565,730),(600,790),(617,850),(565,890),(560,870),(595,830),(580,810),(590,805),(590,785),(550,725),(535,700)]),
 'Cambodia': C([(525,825),(570,812),(595,825),(565,860),(540,865)]),
 'Malaya': C([(490,945),(520,945),(535,995),(522,998)]),
 'Sumatra': C([(415,950),(445,958),(510,1030),(568,1075),(562,1112),(490,1060)]),
 'Java': C([(570,1130),(610,1130),(660,1140),(705,1158),(640,1150),(590,1140)]),
 'Kalimantan': C([(625,1012),(680,1010),(720,975),(750,975),(755,1020),(720,1085),(640,1075),(625,1040)]),
 'Sarawak': C([(640,1010),(660,995),(705,980),(725,945),(745,935),(762,960),(725,965),(680,1005)]),
 'Sulawesi': C([(770,1075),(790,1048),(825,1045),(805,1065),(820,1090),(795,1075),(785,1110)]),
 'Luzon': C([(790,810),(800,745),(820,750),(815,785),(810,815)]),
 'Mindanao': C([(825,910),(860,905),(880,895),(880,925),(860,940),(850,920)]),
 'Seram': C([(955,1045),(990,1045),(1000,1060)]),
 'Buru': C([(910,1075),(940,1078),(915,1082)]),
 'Timor': C([(845,1175),(885,1160),(860,1182)]),
 'Papua': C([(985,1075),(1030,1085),(1050,1062),(1105,1072),(1105,1155),(1065,1150),(1070,1110),(1030,1090)]),
 'PNG': C([(1115,1078),(1150,1080),(1190,1125),(1240,1182),(1220,1185),(1170,1150),(1115,1165)]),
 'Solomon': C([(1245,1120),(1280,1100),(1275,1112),(1250,1125)]),
 'Australia': C([(780,1345),(830,1300),(830,1290),(885,1250),(905,1270),(945,1260),(985,1212),(1035,1225),(1030,1250),(1080,1305),(1110,1300),(1125,1205),(1140,1240),(1165,1270),(1225,1345)]) + [(1320,770),(1320,790),(1305,815),(1285,830),(1270,815),(1270,800),(1245,795),(1225,798),(1185,810),(1180,790),(1175,765)],
 'Tasmania': [(1290,840),(1302,842),(1298,855)],
 'NZNorth': [(1395,825),(1413,825),(1400,845),(1393,840)],
 'NZSouth': [(1395,842),(1398,850),(1380,870),(1372,865)],
}

tick_values = [0, 10, 20, 30, 40, 50, 60, 70]
title = 'Percentuale annua media delle giovani vittime della strada per 100.000 abitanti'
bar_title = 'Giovani deceduti (15-29 anni) per 100.000 abitanti'
low_label = 'Tasso di mortalità basso'
high_label = 'Tasso di mortalità elevato'
source = 'Fonte: YOURS/OMS'

W, H = 1568, 1011


class Condense(AbstractPathEffect):
    # no narrow face is installed, so squeeze the glyphs sideways
    # right=x keeps the right end of the text on that picture pixel
    def __init__(self, sx, right=None):
        super().__init__()
        self.sx = sx
        self.right = right

    def draw_path(self, renderer, gc, tpath, affine, rgbFace=None):
        m = affine.get_matrix().copy()
        m[0, 0] *= self.sx
        if self.right is not None:
            a = self.right * 2150 / W
            m[0, 2] = a + (m[0, 2] - a) * self.sx
        renderer.draw_path(gc, tpath, Affine2D(m), rgbFace)


def band_color(v):
    for i in range(len(band_colors)):
        if bands[i] <= v < bands[i + 1]:
            return band_colors[i]
    return band_colors[-1]


fig = plt.figure(figsize=(21.5, 13.86), dpi=100)
ax = fig.add_axes([0, 0, 1, 1])
ax.set_xlim(0, W)
ax.set_ylim(H, 0)
ax.axis('off')

# frame round the picture
ax.add_patch(Rectangle((1, 1), W - 3, H - 3, fill=False, ec='#c8c8c8', lw=2.5))

for name in outlines:
    xs = [p[0] for p in outlines[name]]
    ys = [p[1] for p in outlines[name]]
    ax.fill(xs, ys, fc=band_color(rates[name]), ec='white', lw=1.0, joinstyle='round')

ax.text(22, 42, title, color='#008c50', fontsize=38, family='Lato', va='center', ha='left',
        path_effects=[Condense(0.908)])

# small world icon, same outlines in green on blue
icon = fig.add_axes([1488 / W, 1 - 56 / H, 68 / W, 44 / H])
icon.set_facecolor('#0f5aa8')
icon.set_xlim(50, 1470)
icon.set_ylim(960, 40)
icon.set_xticks([])
icon.set_yticks([])
for s in icon.spines.values():
    s.set_visible(False)
for name in outlines:
    icon.fill([p[0] for p in outlines[name]], [p[1] for p in outlines[name]], fc='#3aa035', ec='#3aa035', lw=0.4)

# legend bar
bar = fig.add_axes([618.5 / W, 1 - 934 / H, 911.5 / W, 13.5 / H])
bar.set_xlim(bands[0], bands[-1])
bar.set_ylim(0, 1)
bar.axis('off')
clip = FancyBboxPatch((618.5, 920.5), 911.5, 13.5, boxstyle='round,pad=0,rounding_size=6.7',
                      transform=ax.transData, fc='none', ec='none')
for i in range(len(band_colors)):
    seg = bar.barh(0.5, bands[i + 1] - bands[i], left=bands[i], height=1, color=band_colors[i], lw=0)
    seg[0].set_clip_path(clip)

for v in tick_values:
    left = 622 + 12.89 * v - (4 if v == 0 else 13)
    ax.text(left, 952, str(v), fontsize=25, family='Lato', weight='bold', ha='left', va='center', color='#111111',
            path_effects=[Condense(0.6)])

ax.text(797, 870, bar_title, fontsize=25, family='Lato', ha='left', va='center', color='#111111',
        path_effects=[Condense(0.985)])
ax.text(618, 903, low_label, fontsize=25, family='Lato', weight='bold', ha='left', va='center', color='#111111',
        path_effects=[Condense(0.74)])
ax.text(1530, 903, high_label, fontsize=25, family='Lato', weight='bold', ha='right', va='center', color='#111111',
        path_effects=[Condense(0.74, right=1530)])
ax.text(1558, 996, source, fontsize=22, family='Lato', ha='right', va='center', color='#111111',
        path_effects=[Condense(0.67, right=1558)])

fig.savefig('out.png', dpi=100)
